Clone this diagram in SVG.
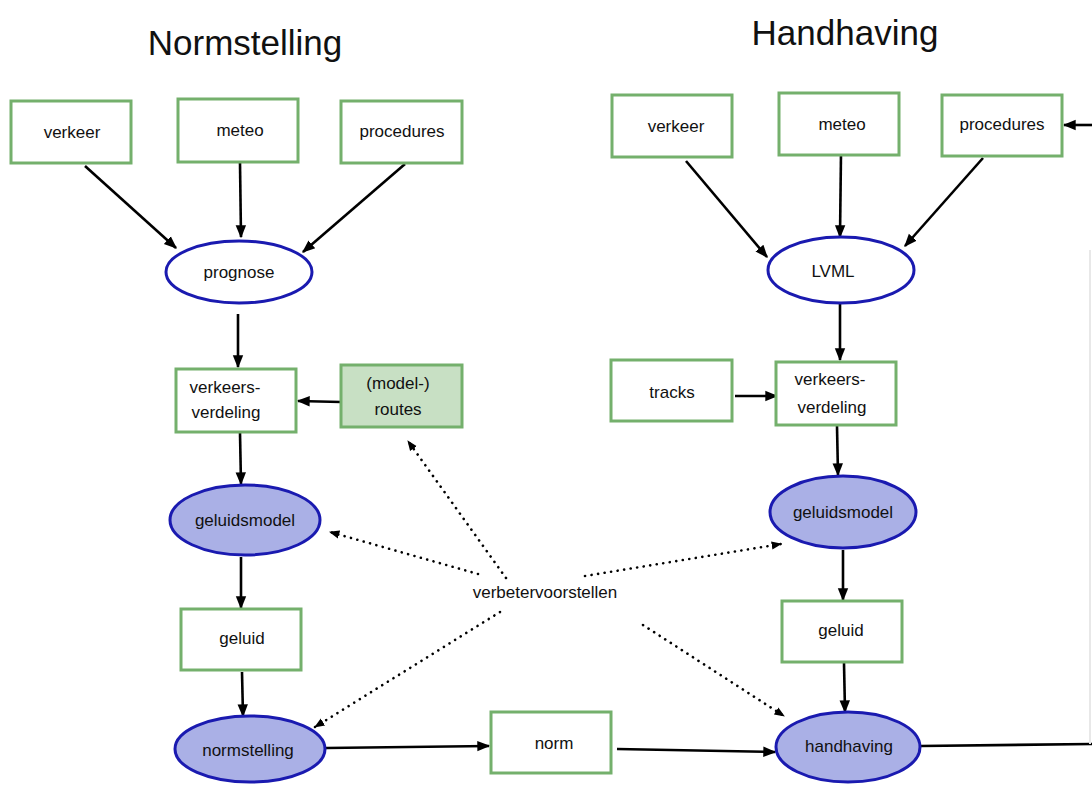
<svg xmlns="http://www.w3.org/2000/svg" width="1092" height="787" viewBox="0 0 1092 787">
<defs>
<marker id="ah" viewBox="0 0 10 10" refX="9" refY="5" markerWidth="5" markerHeight="5" orient="auto" markerUnits="strokeWidth">
<path d="M0,1 L10,5 L0,9 Z" fill="#000"/>
</marker>
<marker id="ahs" viewBox="0 0 10 10" refX="9" refY="5" markerWidth="4" markerHeight="4" orient="auto" markerUnits="strokeWidth">
<path d="M0,1 L10,5 L0,9 Z" fill="#000"/>
</marker>
<style>
.box{fill:#fff;stroke:#74b06c;stroke-width:3}
.boxf{fill:#c8e0c4;stroke:#74b06c;stroke-width:3}
.ell{fill:#fff;stroke:#1a1ab0;stroke-width:3}
.ellf{fill:#aab0e6;stroke:#1a1ab0;stroke-width:3}
.t{font-family:"Liberation Sans",Arial,sans-serif;font-size:17px;fill:#111;text-anchor:middle;dominant-baseline:central}
.title{font-family:"Liberation Sans",Arial,sans-serif;font-size:35px;fill:#111;text-anchor:middle}
.c{stroke:#000;stroke-width:2.6;fill:none;marker-end:url(#ah)}
.cn{stroke:#000;stroke-width:2.6;fill:none}
.d{stroke:#000;stroke-width:2.6;fill:none;stroke-dasharray:0.1 6.5;stroke-linecap:round;marker-end:url(#ahs)}
</style>
</defs>
<rect width="1092" height="787" fill="#fff"/>
<text class="title" x="245" y="55">Normstelling</text>
<text class="title" x="845" y="45">Handhaving</text>

<g id="connectors">
<line class="c" x1="85" y1="166" x2="176" y2="248"/>
<line class="c" x1="240" y1="163" x2="241" y2="237"/>
<line class="c" x1="405" y1="164" x2="303" y2="252"/>
<line class="c" x1="238" y1="314" x2="238" y2="367"/>
<line class="c" x1="341" y1="402" x2="298" y2="401"/>
<line class="c" x1="240" y1="433" x2="241" y2="484"/>
<line class="c" x1="241" y1="557" x2="241" y2="608"/>
<line class="c" x1="242" y1="672" x2="243" y2="716"/>
<line class="c" x1="326" y1="748" x2="489" y2="746"/>
<line class="c" x1="617" y1="749" x2="775" y2="752"/>
<line class="c" x1="686" y1="161" x2="767" y2="257"/>
<line class="c" x1="841" y1="153" x2="840" y2="237"/>
<line class="c" x1="983" y1="158" x2="905" y2="246"/>
<line class="c" x1="1092" y1="125" x2="1064" y2="125"/>
<line class="c" x1="840" y1="304" x2="840" y2="360"/>
<line class="c" x1="735" y1="396" x2="777" y2="396"/>
<line class="c" x1="837" y1="426" x2="838" y2="475"/>
<line class="c" x1="843" y1="550" x2="843" y2="600"/>
<line class="c" x1="844" y1="663" x2="845" y2="712"/>
<line class="cn" x1="920" y1="746" x2="1092" y2="744"/>
<line x1="1090" y1="250" x2="1090" y2="744" stroke="#e8e8e8" stroke-width="2"/>
<line class="d" x1="506" y1="578" x2="408" y2="441"/>
<line class="d" x1="478" y1="574" x2="330" y2="532"/>
<line class="d" x1="500" y1="612" x2="315" y2="727"/>
<line class="d" x1="585" y1="576" x2="781" y2="544"/>
<line class="d" x1="643" y1="625" x2="784" y2="716"/>
</g>

<g id="n-verkeer-l"><rect class="box" x="11" y="101" width="120" height="62"/><text class="t" x="72" y="132">verkeer</text></g>
<g id="n-meteo-l"><rect class="box" x="178" y="99" width="120" height="63"/><text class="t" x="240" y="130">meteo</text></g>
<g id="n-procedures-l"><rect class="box" x="341" y="101" width="121" height="62"/><text class="t" x="402" y="131">procedures</text></g>
<g id="n-prognose"><ellipse class="ell" cx="239" cy="272" rx="73" ry="31"/><text class="t" x="239" y="272">prognose</text></g>
<g id="n-vv-l"><rect class="box" x="176" y="369" width="120" height="63"/><text class="t" x="225" y="387">verkeers-</text><text class="t" x="226" y="412">verdeling</text></g>
<g id="n-routes"><rect class="boxf" x="341" y="365" width="121" height="62"/><text class="t" x="398" y="383">(model-)</text><text class="t" x="398" y="409">routes</text></g>
<g id="n-gm-l"><ellipse class="ellf" cx="245" cy="520" rx="75" ry="35"/><text class="t" x="245" y="520">geluidsmodel</text></g>
<g id="n-geluid-l"><rect class="box" x="181" y="609" width="120" height="61"/><text class="t" x="242" y="638">geluid</text></g>
<g id="n-normstelling"><ellipse class="ellf" cx="250" cy="749" rx="75" ry="33"/><text class="t" x="248" y="750">normstelling</text></g>
<g id="n-norm"><rect class="box" x="491" y="712" width="120" height="61"/><text class="t" x="554" y="743">norm</text></g>

<g id="n-verkeer-r"><rect class="box" x="612" y="95" width="120" height="62"/><text class="t" x="676" y="126">verkeer</text></g>
<g id="n-meteo-r"><rect class="box" x="779" y="93" width="120" height="62"/><text class="t" x="842" y="124">meteo</text></g>
<g id="n-procedures-r"><rect class="box" x="942" y="95" width="120" height="61"/><text class="t" x="1002" y="124">procedures</text></g>
<g id="n-lvml"><ellipse class="ell" cx="841" cy="270" rx="73" ry="33"/><text class="t" x="833" y="271">LVML</text></g>
<g id="n-tracks"><rect class="box" x="611" y="360" width="121" height="61"/><text class="t" x="672" y="392">tracks</text></g>
<g id="n-vv-r"><rect class="box" x="776" y="362" width="120" height="63"/><text class="t" x="830" y="379">verkeers-</text><text class="t" x="832" y="407">verdeling</text></g>
<g id="n-gm-r"><ellipse class="ellf" cx="843" cy="512" rx="73" ry="36"/><text class="t" x="843" y="512">geluidsmodel</text></g>
<g id="n-geluid-r"><rect class="box" x="782" y="601" width="120" height="61"/><text class="t" x="841" y="630">geluid</text></g>
<g id="n-handhaving"><ellipse class="ellf" cx="848" cy="747" rx="72" ry="35"/><text class="t" x="849" y="746">handhaving</text></g>

<text class="t" x="545" y="592">verbetervoorstellen</text>
</svg>
